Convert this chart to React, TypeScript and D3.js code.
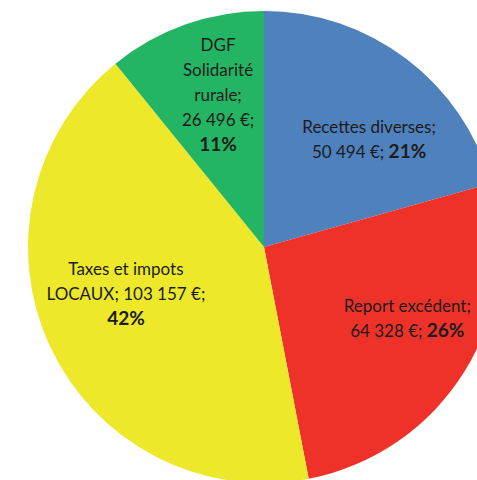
import React from "react";
import * as d3 from "d3";

const categories = ["Recettes diverses", "Report excédent", "Taxes et impots LOCAUX", "DGF Solidarité rurale"];
const values = [50494, 64328, 103157, 26496];
const percentLabels = ["21%", "26%", "42%", "11%"];
const colors = ["#4F81BD", "#EE3229", "#EEE82B", "#24B564"];
// text lines per label (last line ends with the bold percentage)
const labelLines: string[][] = [
  ["Recettes diverses;", "50 494 €; "],
  ["Report excédent;", "64 328 €; "],
  ["Taxes et impots", "LOCAUX; 103 157 €;", ""],
  ["DGF", "Solidarité", "rurale;", "26 496 €;", ""],
];
const labelRadii = [150, 160, 146, 159];
const labelAngleNudge = [7.3, -5.3, 6, 2.7];

const W = 477;
const H = 480;
const cx = 264;
const cy = 247;
const R = 236;

export default function App() {
  const pie = d3.pie<number>().sort(null).value((d) => d);
  const arcs = pie(values);
  const arc = d3.arc<d3.PieArcDatum<number>>().innerRadius(0).outerRadius(R);
  const lineH = 25;
  return (
    <svg
      width={W}
      height={H}
      style={{ position: "absolute", left: 0, top: 0, display: "block", background: "#fff" }}
      fontFamily="Lato, 'Open Sans', sans-serif"
    >
      <g transform={`translate(${cx},${cy})`}>
        {arcs.map((a, i) => (
          <path key={categories[i]} d={arc(a) || ""} fill={colors[i]} />
        ))}
        {arcs.map((a, i) => {
          const mid = (a.startAngle + a.endAngle) / 2 + (labelAngleNudge[i] * Math.PI) / 180;
          const r = labelRadii[i];
          const x = Math.sin(mid) * r;
          const y = -Math.cos(mid) * r;
          const lines = labelLines[i];
          const n = lines.length;
          const y0 = y - ((n - 1) * lineH) / 2;
          return (
            <text key={"l" + i} textAnchor="middle" fontSize={17} fill="#1c1c1c">
              {lines.map((ln, j) => (
                <tspan key={j} x={x} y={y0 + j * lineH} dy="0.35em">
                  {ln}
                  {j === n - 1 ? (
                    <tspan fontWeight="bold" fontSize={19}>{percentLabels[i]}</tspan>
                  ) : null}
                </tspan>
              ))}
            </text>
          );
        })}
      </g>
    </svg>
  );
}
